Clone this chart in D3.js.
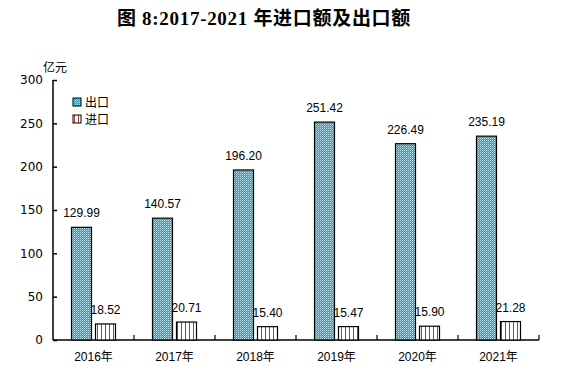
<!DOCTYPE html>
<html>
<head>
<meta charset="utf-8">
<script src="https://cdn.jsdelivr.net/npm/d3@7"></script>
<style>
  body { margin: 0; background: #fff; }
  svg { display: block; }
  text { font-family: "Liberation Sans", "Noto Sans CJK SC", sans-serif; fill: #000; }
</style>
</head>
<body>
<svg class="canvas" width="569" height="373"></svg>
<script>
"use strict";

const years = ["2016年", "2017年", "2018年", "2019年", "2020年", "2021年"];
const exportValues = [129.99, 140.57, 196.20, 251.42, 226.49, 235.19];
const importValues = [18.52, 20.71, 15.40, 15.47, 15.90, 21.28];
const seriesNames = ["出口", "进口"];
const yTicks = [0, 50, 100, 150, 200, 250, 300];

function render() {
  const svg = d3.select(".canvas");
  const left = 53, right = 539, top = 80, bottom = 340;

  const x = d3.scaleBand().domain(years).range([left, right]);
  const y = d3.scaleLinear().domain([0, 300]).range([bottom, top]);

  // fill patterns
  const defs = svg.append("defs");
  const dots = defs.append("pattern")
    .attr("id", "pExport").attr("patternUnits", "userSpaceOnUse")
    .attr("width", 2).attr("height", 2);
  dots.append("rect").attr("width", 2).attr("height", 2).attr("fill", "#2f9fbd");
  dots.append("rect").attr("x", 0).attr("y", 0).attr("width", 1).attr("height", 1).attr("fill", "#b4e2ee");
  dots.append("rect").attr("x", 1).attr("y", 1).attr("width", 1).attr("height", 1).attr("fill", "#5cbad3");

  const stripes = defs.append("pattern")
    .attr("id", "pImport").attr("patternUnits", "userSpaceOnUse")
    .attr("width", 4).attr("height", 4);
  stripes.append("rect").attr("width", 4).attr("height", 4).attr("fill", "#fff");
  stripes.append("rect").attr("x", 1).attr("width", 1).attr("height", 4).attr("fill", "#a3403c");

  // title
  svg.append("text")
    .attr("x", 264).attr("y", 25)
    .attr("text-anchor", "middle")
    .style("font-family", "'Liberation Serif', 'Noto Sans CJK SC', serif")
    .style("font-size", "19px").style("font-weight", "bold")
    .style("letter-spacing", "0.7px")
    .text("图 8:2017-2021 年进口额及出口额");

  // unit
  svg.append("text").attr("x", 43).attr("y", 72)
    .style("font-size", "12px").text("亿元");

  // y axis
  const yAxis = svg.append("g")
    .attr("transform", `translate(${left},0)`)
    .call(d3.axisLeft(y).tickValues(yTicks).tickSize(-4).tickPadding(10));
  yAxis.select(".domain").attr("d", `M0,${top}V${bottom}`).attr("stroke", "#000").attr("stroke-width", 1.5);
  yAxis.selectAll(".tick line").attr("stroke", "#000").attr("stroke-width", 1.5);
  yAxis.selectAll(".tick text").style("font-size", "12px").style("font-family", "'DejaVu Sans', sans-serif").attr("fill", "#222");

  // x axis
  const xAxis = svg.append("g").attr("transform", `translate(0,${bottom})`);
  xAxis.append("line").attr("x1", left).attr("x2", right)
    .attr("stroke", "#000").attr("stroke-width", 1.5);
  xAxis.selectAll(".sep").data(years).enter().append("line")
    .attr("x1", d => x(d) + x.bandwidth()).attr("x2", d => x(d) + x.bandwidth())
    .attr("y1", -5).attr("y2", 0).attr("stroke", "#000").attr("stroke-width", 1.2);
  xAxis.selectAll(".lab").data(years).enter().append("text")
    .attr("x", d => x(d) + x.bandwidth() / 2).attr("y", 21)
    .attr("text-anchor", "middle").style("font-size", "12px")
    .text(d => d);

  const barW = 20, gap = 4;
  const groups = svg.selectAll(".grp").data(years).enter().append("g");

  // exports
  groups.append("rect")
    .attr("x", d => x(d) + x.bandwidth() / 2 - gap / 2 - barW)
    .attr("y", (d, i) => y(exportValues[i]))
    .attr("width", barW)
    .attr("height", (d, i) => bottom - y(exportValues[i]))
    .attr("fill", "url(#pExport)").attr("stroke", "#000").attr("stroke-width", 1.2);
  groups.append("text")
    .attr("x", d => x(d) + x.bandwidth() / 2 - gap / 2 - barW / 2)
    .attr("y", (d, i) => y(exportValues[i]) - 10)
    .attr("text-anchor", "middle").style("font-size", "12px")
    .text((d, i) => exportValues[i].toFixed(2));

  // imports
  groups.append("rect")
    .attr("x", d => x(d) + x.bandwidth() / 2 + gap / 2)
    .attr("y", (d, i) => y(importValues[i]))
    .attr("width", barW)
    .attr("height", (d, i) => bottom - y(importValues[i]))
    .attr("fill", "url(#pImport)").attr("stroke", "#000").attr("stroke-width", 1.2);
  groups.append("text")
    .attr("x", d => x(d) + x.bandwidth() / 2 + gap / 2 + barW / 2)
    .attr("y", (d, i) => y(importValues[i]) - 10)
    .attr("text-anchor", "middle").style("font-size", "12px")
    .text((d, i) => importValues[i].toFixed(2));

  // legend
  const legend = svg.append("g").attr("transform", "translate(73,98)");
  const fills = ["url(#pExport)", "url(#pImport)"];
  seriesNames.forEach((name, i) => {
    legend.append("rect").attr("x", 0).attr("y", i * 17)
      .attr("width", 8).attr("height", 8)
      .attr("fill", fills[i]).attr("stroke", "#000").attr("stroke-width", 1);
    legend.append("text").attr("x", 12).attr("y", i * 17 + 9)
      .style("font-size", "12px").text(name);
  });
}

window.onload = render;
</script>
</body>
</html>
